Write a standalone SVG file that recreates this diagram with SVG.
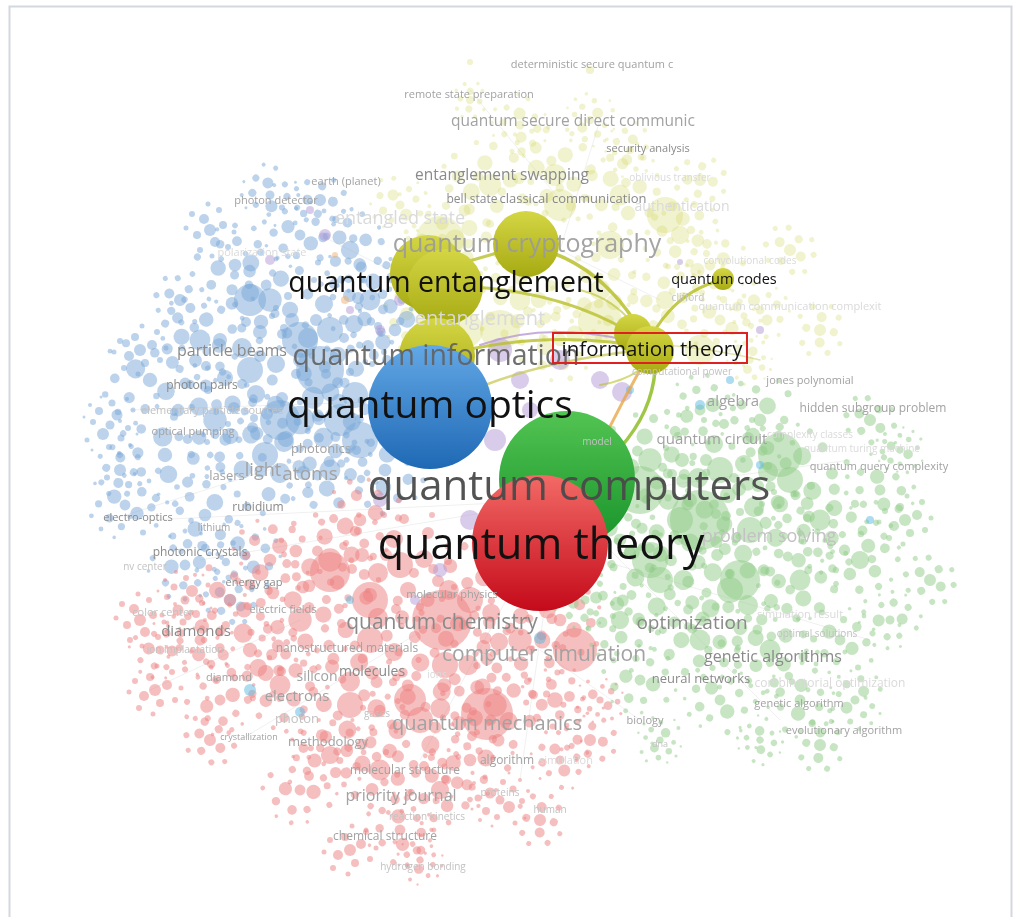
<svg xmlns="http://www.w3.org/2000/svg" width="1017" height="917" viewBox="0 0 1017 917">
<style>
text{font-family:'Open Sans','DejaVu Sans',sans-serif;text-anchor:middle}
.k{fill:#111}.d{fill:#555}.g2{fill:#8a8a8a}.g3{fill:#a2a2a2}.g4{fill:#c2c2c2}.g5{fill:#dadada}
.con{fill:none;stroke-linecap:round}
.soft{filter:url(#soft)}
</style>
<defs>
<filter id="soft" x="-5%" y="-5%" width="110%" height="110%"><feGaussianBlur stdDeviation="0.7"/></filter>
<g id="bA"><circle cx="0" cy="0" r="13"/><circle cx="24" cy="-6" r="9"/><circle cx="-22" cy="8" r="10"/><circle cx="8" cy="25" r="8"/><circle cx="-6" cy="-26" r="9"/><circle cx="38" cy="16" r="6"/><circle cx="-38" cy="-10" r="7"/><circle cx="28" cy="-32" r="6"/><circle cx="-30" cy="30" r="7"/><circle cx="48" cy="-4" r="4"/><circle cx="-48" cy="4" r="5"/><circle cx="4" cy="-46" r="5"/><circle cx="-4" cy="44" r="5"/><circle cx="20" cy="42" r="4"/><circle cx="42" cy="34" r="3"/><circle cx="-42" cy="-34" r="4"/><circle cx="32" cy="-50" r="3"/><circle cx="-16" cy="-50" r="3"/><circle cx="54" cy="22" r="3"/><circle cx="-54" cy="-22" r="3"/><circle cx="14" cy="8" r="5"/><circle cx="-14" cy="-10" r="6"/></g>
<g id="bB"><circle cx="0" cy="0" r="9"/><circle cx="-18" cy="-14" r="12"/><circle cx="20" cy="14" r="11"/><circle cx="-26" cy="22" r="7"/><circle cx="28" cy="-22" r="8"/><circle cx="6" cy="-34" r="6"/><circle cx="-6" cy="36" r="6"/><circle cx="44" cy="4" r="7"/><circle cx="-44" cy="-2" r="6"/><circle cx="40" cy="-40" r="4"/><circle cx="-40" cy="40" r="4"/><circle cx="16" cy="-52" r="3"/><circle cx="-18" cy="54" r="3"/><circle cx="56" cy="-18" r="3"/><circle cx="-56" cy="18" r="4"/><circle cx="52" cy="34" r="4"/><circle cx="-50" cy="-36" r="3"/><circle cx="30" cy="46" r="5"/><circle cx="-30" cy="-46" r="5"/><circle cx="8" cy="20" r="4"/></g>
<g id="bC"><circle cx="0" cy="0" r="6"/><circle cx="12" cy="-5" r="5"/><circle cx="-11" cy="6" r="5"/><circle cx="5" cy="13" r="4"/><circle cx="-5" cy="-13" r="4"/><circle cx="20" cy="10" r="3"/><circle cx="-20" cy="-9" r="3"/><circle cx="17" cy="-18" r="3"/><circle cx="-16" cy="18" r="3"/><circle cx="26" cy="-2" r="2.5"/><circle cx="-26" cy="2" r="2.5"/><circle cx="2" cy="-24" r="2.5"/><circle cx="-2" cy="24" r="2.5"/></g>
<linearGradient id="gBlue" x1="0" y1="0" x2="0" y2="1"><stop offset="0" stop-color="#62a8e6"/><stop offset="1" stop-color="#1f68b4"/></linearGradient>
<linearGradient id="gGreen" x1="0" y1="0" x2="0" y2="1"><stop offset="0" stop-color="#52c452"/><stop offset="1" stop-color="#17922a"/></linearGradient>
<linearGradient id="gRed" x1="0" y1="0" x2="0" y2="1"><stop offset="0" stop-color="#f26a66"/><stop offset="1" stop-color="#c40a1a"/></linearGradient>
<linearGradient id="gYel" x1="0" y1="0" x2="0" y2="1"><stop offset="0" stop-color="#d4d644"/><stop offset="1" stop-color="#a6aa12"/></linearGradient>
</defs>

<rect x="9.5" y="6.5" width="1002" height="920" fill="#fff" stroke="#d3d7de" stroke-width="2"/>

<g id="web" stroke="#c8c8c8" stroke-opacity="0.35" stroke-width="0.8" fill="none">
<path d="M560 500L420 760M560 500L520 780M560 500L200 560M560 500L150 520M560 500L850 460M560 500L780 720M450 300L330 240M560 250L600 120M560 250L660 300M300 620L150 690M440 620L240 740M540 650L640 720M300 460L110 520M560 200L470 90M600 560L870 640M430 400L130 410"/>
</g>

<g id="cloud-yellow" class="soft" fill="#d4d868" fill-opacity="0.32">
<use href="#bA" transform="translate(490,185) scale(.85)"/><use href="#bA" transform="translate(555,175) rotate(40) scale(.85)"/><use href="#bA" transform="translate(620,195) rotate(80) scale(.8)"/><use href="#bA" transform="translate(680,235) rotate(120) scale(.7)"/><use href="#bA" transform="translate(455,240) rotate(160) scale(.8)"/><use href="#bA" transform="translate(520,300) rotate(200) scale(.8)"/><use href="#bA" transform="translate(600,290) rotate(240) scale(.8)"/><use href="#bA" transform="translate(665,300) rotate(280) scale(.7)"/>
<use href="#bB" transform="translate(720,320) scale(.6)"/><use href="#bB" transform="translate(520,125) rotate(50) scale(.5)"/><use href="#bB" transform="translate(590,120) rotate(100) scale(.45)"/><use href="#bB" transform="translate(400,205) rotate(200) scale(.5)"/><use href="#bB" transform="translate(630,150) rotate(250) scale(.45)"/><use href="#bB" transform="translate(710,265) rotate(300) scale(.6)"/><use href="#bB" transform="translate(760,310) rotate(20) scale(.5)"/><use href="#bB" transform="translate(750,360) rotate(70) scale(.4)"/><use href="#bB" transform="translate(560,340) rotate(120) scale(.7)"/><use href="#bB" transform="translate(420,320) rotate(170) scale(.6)"/>
<use href="#bC" transform="translate(790,250) rotate(240)"/><use href="#bC" transform="translate(820,330) rotate(300)"/><use href="#bC" transform="translate(700,180) rotate(30)"/><use href="#bC" transform="translate(470,100) rotate(120) scale(.7)"/>
<circle cx="440" cy="240" r="24"/><circle cx="665" cy="215" r="18"/><circle cx="600" cy="322" r="22"/><circle cx="500" cy="330" r="20"/><circle cx="700" cy="350" r="15"/><circle cx="465" cy="330" r="18"/><circle cx="560" cy="205" r="16"/><circle cx="610" cy="245" r="14"/><circle cx="590" cy="70" r="4"/><circle cx="470" cy="62" r="3"/>
</g>

<g id="cloud-blue" class="soft" fill="#7aa8d8" fill-opacity="0.5">
<use href="#bA" transform="translate(330,330)"/><use href="#bA" transform="translate(270,300) rotate(40) scale(.9)"/><use href="#bA" transform="translate(250,370) rotate(90)"/><use href="#bA" transform="translate(300,420) rotate(140) scale(1.1)"/><use href="#bA" transform="translate(355,395) rotate(200)"/><use href="#bA" transform="translate(215,420) rotate(60) scale(.9)"/><use href="#bA" transform="translate(265,455) rotate(250)"/><use href="#bA" transform="translate(330,470) rotate(300) scale(.8)"/><use href="#bA" transform="translate(200,340) rotate(30) scale(.8)"/><use href="#bA" transform="translate(370,300) rotate(120) scale(.8)"/><use href="#bA" transform="translate(350,250) rotate(70) scale(.7)"/>
<use href="#bB" transform="translate(150,380) scale(.8)"/><use href="#bB" transform="translate(165,455) rotate(45) scale(.8)"/><use href="#bB" transform="translate(125,505) scale(.6)"/><use href="#bB" transform="translate(205,515) rotate(90) scale(.7)"/><use href="#bB" transform="translate(235,265) rotate(135) scale(.7)"/><use href="#bB" transform="translate(300,235) rotate(180) scale(.6)"/><use href="#bB" transform="translate(270,195) rotate(225) scale(.5)"/><use href="#bB" transform="translate(110,425) rotate(270) scale(.5)"/><use href="#bB" transform="translate(185,565) rotate(315) scale(.6)"/><use href="#bB" transform="translate(245,555) rotate(20) scale(.6)"/><use href="#bB" transform="translate(385,470) rotate(60) scale(.7)"/><use href="#bB" transform="translate(395,330) rotate(100) scale(.7)"/>
<use href="#bC" transform="translate(140,350)"/><use href="#bC" transform="translate(180,300) rotate(60)"/><use href="#bC" transform="translate(120,470) rotate(120)"/><use href="#bC" transform="translate(230,600) rotate(240)"/><use href="#bC" transform="translate(320,200) rotate(30)"/><use href="#bC" transform="translate(210,230) rotate(90)"/>
<circle cx="320" cy="370" r="24"/><circle cx="280" cy="420" r="20"/><circle cx="360" cy="440" r="18"/><circle cx="300" cy="340" r="18"/><circle cx="250" cy="300" r="16"/><circle cx="340" cy="420" r="16"/>
</g>

<g id="cloud-red" class="soft" fill="#ee8080" fill-opacity="0.5">
<use href="#bA" transform="translate(330,560) scale(.9)"/><use href="#bA" transform="translate(400,565)"/><use href="#bA" transform="translate(470,600) rotate(45)"/><use href="#bA" transform="translate(300,620) rotate(90) scale(.9)"/><use href="#bA" transform="translate(370,640) rotate(130)"/><use href="#bA" transform="translate(445,665) rotate(200)"/><use href="#bA" transform="translate(520,640) rotate(15) scale(.9)"/><use href="#bA" transform="translate(280,685) rotate(60) scale(.8)"/><use href="#bA" transform="translate(350,705) rotate(110)"/><use href="#bA" transform="translate(420,720) rotate(170)"/><use href="#bA" transform="translate(495,705) rotate(250) scale(.9)"/><use href="#bA" transform="translate(380,770) rotate(40) scale(.8)"/><use href="#bA" transform="translate(440,790) rotate(80) scale(.7)"/><use href="#bA" transform="translate(330,755) scale(.7)"/><use href="#bA" transform="translate(555,700) scale(.6)"/>
<use href="#bB" transform="translate(560,620) scale(.7)"/><use href="#bB" transform="translate(230,600) scale(.7)"/><use href="#bB" transform="translate(250,650) rotate(30) scale(.8)"/><use href="#bB" transform="translate(200,640) rotate(60) scale(.6)"/><use href="#bB" transform="translate(185,600) rotate(90) scale(.5)"/><use href="#bB" transform="translate(220,700) rotate(120) scale(.6)"/><use href="#bB" transform="translate(300,790) rotate(150) scale(.6)"/><use href="#bB" transform="translate(500,800) rotate(180) scale(.5)"/><use href="#bB" transform="translate(560,760) rotate(210) scale(.5)"/><use href="#bB" transform="translate(420,860) rotate(240) scale(.4)"/><use href="#bB" transform="translate(270,560) rotate(270) scale(.7)"/><use href="#bB" transform="translate(360,520) rotate(300) scale(.7)"/><use href="#bB" transform="translate(160,650) rotate(330) scale(.5)"/><use href="#bB" transform="translate(600,700) scale(.4)"/><use href="#bB" transform="translate(400,830) rotate(45) scale(.6)"/><use href="#bB" transform="translate(470,760) rotate(135) scale(.7)"/>
<use href="#bC" transform="translate(155,690)"/><use href="#bC" transform="translate(210,740) rotate(60)"/><use href="#bC" transform="translate(350,850) rotate(180)"/><use href="#bC" transform="translate(540,820) rotate(300)"/><use href="#bC" transform="translate(590,740) rotate(30)"/><use href="#bC" transform="translate(140,620) rotate(90)"/>
<circle cx="442" cy="620" r="30"/><circle cx="487" cy="714" r="26"/><circle cx="575" cy="650" r="22"/><circle cx="330" cy="572" r="20"/><circle cx="370" cy="600" r="18"/><circle cx="410" cy="700" r="16"/>
</g>

<g id="cloud-green" class="soft" fill="#8fcc88" fill-opacity="0.5">
<use href="#bA" transform="translate(650,460) scale(.9)"/><use href="#bA" transform="translate(720,470)"/><use href="#bA" transform="translate(790,480) rotate(40)"/><use href="#bA" transform="translate(680,520) rotate(80)"/><use href="#bA" transform="translate(750,530) rotate(120)"/><use href="#bA" transform="translate(820,520) rotate(160) scale(.8)"/><use href="#bA" transform="translate(660,580) rotate(200)"/><use href="#bA" transform="translate(730,590) rotate(240)"/><use href="#bA" transform="translate(800,580) rotate(280) scale(.8)"/><use href="#bA" transform="translate(700,640) rotate(20) scale(.8)"/><use href="#bA" transform="translate(770,650) rotate(60) scale(.8)"/><use href="#bA" transform="translate(620,620) rotate(100) scale(.7)"/><use href="#bA" transform="translate(860,560) rotate(140) scale(.7)"/>
<use href="#bB" transform="translate(840,640) scale(.6)"/><use href="#bB" transform="translate(880,490) rotate(40) scale(.6)"/><use href="#bB" transform="translate(760,420) rotate(80) scale(.7)"/><use href="#bB" transform="translate(700,410) rotate(120) scale(.6)"/><use href="#bB" transform="translate(640,680) rotate(160) scale(.6)"/><use href="#bB" transform="translate(720,700) rotate(200) scale(.6)"/><use href="#bB" transform="translate(800,700) rotate(240) scale(.6)"/><use href="#bB" transform="translate(855,700) rotate(280) scale(.5)"/><use href="#bB" transform="translate(890,620) rotate(320) scale(.5)"/><use href="#bB" transform="translate(620,540) rotate(10) scale(.7)"/><use href="#bB" transform="translate(760,740) rotate(50) scale(.4)"/><use href="#bB" transform="translate(660,740) rotate(90) scale(.4)"/><use href="#bB" transform="translate(585,600) rotate(130) scale(.5)"/><use href="#bB" transform="translate(900,450) rotate(170) scale(.4)"/>
<use href="#bC" transform="translate(905,520)"/><use href="#bC" transform="translate(870,420) rotate(60)"/><use href="#bC" transform="translate(820,745) rotate(120)"/><use href="#bC" transform="translate(930,580) rotate(240)"/><use href="#bC" transform="translate(600,480) rotate(300)"/>
<circle cx="700" cy="520" r="30"/><circle cx="640" cy="490" r="24"/><circle cx="780" cy="455" r="22"/><circle cx="740" cy="580" r="20"/><circle cx="650" cy="560" r="18"/>
</g>

<g id="spots" fill-opacity="0.5">
<g fill="#b49ad8"><circle cx="400" cy="300" r="6"/><circle cx="460" cy="360" r="8"/><circle cx="520" cy="380" r="9"/><circle cx="600" cy="380" r="9"/><circle cx="622" cy="392" r="10"/><circle cx="270" cy="260" r="5"/><circle cx="310" cy="210" r="4"/><circle cx="560" cy="520" r="6"/><circle cx="440" cy="570" r="7"/><circle cx="470" cy="520" r="10"/><circle cx="530" cy="410" r="8"/><circle cx="380" cy="330" r="5"/><circle cx="760" cy="330" r="4"/><circle cx="595" cy="560" r="4"/><circle cx="415" cy="600" r="5"/><circle cx="500" cy="350" r="12"/><circle cx="560" cy="360" r="10"/><circle cx="495" cy="440" r="11"/><circle cx="380" cy="500" r="7"/><circle cx="350" cy="310" r="4"/><circle cx="680" cy="262" r="3"/><circle cx="325" cy="235" r="6"/></g>
<g fill="#5cb8e0"><circle cx="540" cy="638" r="6"/><circle cx="760" cy="465" r="4"/><circle cx="870" cy="520" r="4"/><circle cx="700" cy="405" r="5"/><circle cx="350" cy="600" r="4"/><circle cx="730" cy="380" r="4"/><circle cx="250" cy="690" r="6"/><circle cx="300" cy="712" r="5"/><circle cx="630" cy="390" r="4"/></g>
<g fill="#f0b070"><circle cx="345" cy="300" r="4"/><circle cx="335" cy="255" r="3"/><circle cx="575" cy="455" r="4"/></g>
</g>

<g id="connectors" class="con">
<path d="M640 330 Q600 262 530 246" stroke="#b9bf2a" stroke-width="3.5" stroke-opacity="0.85"/>
<path d="M636 336 Q560 288 450 286" stroke="#b9bf2a" stroke-width="3" stroke-opacity="0.8"/>
<path d="M632 345 Q540 330 440 356" stroke="#b9bf2a" stroke-width="3" stroke-opacity="0.8"/>
<path d="M655 330 Q680 290 722 280" stroke="#b9bf2a" stroke-width="3" stroke-opacity="0.85"/>
<path d="M655 370 Q652 412 620 448" stroke="#96c032" stroke-width="3.5" stroke-opacity="0.9"/>
<path d="M640 370 Q612 420 586 476" stroke="#e8a848" stroke-width="3" stroke-opacity="0.8"/>
<path d="M626 352 Q545 362 485 385" stroke="#c8c85a" stroke-width="2.5" stroke-opacity="0.75"/>
<path d="M626 340 Q545 322 480 345" stroke="#b898d4" stroke-width="2" stroke-opacity="0.8"/>
<path d="M466 262 Q500 252 522 246" stroke="#b9bf2a" stroke-width="3" stroke-opacity="0.8"/>
<path d="M640 335 Q620 300 580 290" stroke="#b9bf2a" stroke-width="2" stroke-opacity="0.6"/>
<path d="M645 365 Q630 380 600 385" stroke="#b9bf2a" stroke-width="2" stroke-opacity="0.6"/>
<path d="M665 345 Q720 350 760 360" stroke="#c8cc60" stroke-width="1.5" stroke-opacity="0.5"/>
</g>

<g id="node-quantum-cryptography"><circle cx="526" cy="244" r="33" fill="url(#gYel)"/></g>
<g id="node-quantum-entanglement"><circle cx="428" cy="273" r="38" fill="url(#gYel)"/><circle cx="445" cy="287" r="38" fill="url(#gYel)"/></g>
<g id="node-quantum-information"><circle cx="437" cy="356" r="38" fill="url(#gYel)"/></g>
<g id="node-quantum-codes"><circle cx="723" cy="279" r="11" fill="url(#gYel)"/></g>
<g id="node-information-theory"><circle cx="633" cy="333" r="19" fill="url(#gYel)"/><circle cx="650" cy="350" r="24" fill="url(#gYel)"/></g>
<g id="node-quantum-optics"><circle cx="430" cy="407" r="62" fill="url(#gBlue)"/></g>
<g id="node-quantum-computers"><circle cx="567" cy="479" r="68" fill="url(#gGreen)"/></g>
<g id="node-quantum-theory"><circle cx="540" cy="543" r="68" fill="url(#gRed)"/></g>

<g id="labels-minor">
<text x="592" y="68" font-size="11" class="g3">deterministic secure quantum c</text>
<text x="469" y="98" font-size="11" class="g3">remote state preparation</text>
<text x="573" y="126" font-size="15.5" class="g3">quantum secure direct communic</text>
<text x="648" y="152" font-size="11" class="g2">security analysis</text>
<text x="502" y="180" font-size="15.5" class="g2">entanglement swapping</text>
<text x="670" y="181" font-size="10" class="g5">oblivious transfer</text>
<text x="472" y="203" font-size="12" class="g2">bell state</text>
<text x="573" y="203" font-size="13" class="g2">classical communication</text>
<text x="682" y="211" font-size="14" class="g5">authentication</text>
<text x="400" y="224" font-size="18" class="g5">entangled state</text>
<text x="262" y="256" font-size="11" class="g5">polarization state</text>
<text x="346" y="185" font-size="11" class="g3">earth (planet)</text>
<text x="276" y="204" font-size="11" class="g3">photon detector</text>
<text x="750" y="264" font-size="10" class="g5">convolutional codes</text>
<text x="688" y="301" font-size="10" class="g4">clifford</text>
<text x="790" y="310" font-size="11" class="g5">quantum communication complexit</text>
<text x="480" y="325" font-size="20" class="g5">entanglement</text>
<text x="682" y="375" font-size="10" class="g4">computational power</text>
<text x="232" y="356" font-size="16" class="g2">particle beams</text>
<text x="202" y="389" font-size="12" class="g2">photon pairs</text>
<text x="212" y="414" font-size="11" class="g4">elementary particle sources</text>
<text x="193" y="435" font-size="11" class="g3">optical pumping</text>
<text x="321" y="453" font-size="13" class="g3">photonics</text>
<text x="227" y="480" font-size="13" class="g3">lasers</text>
<text x="263" y="476" font-size="18" class="g3">light</text>
<text x="310" y="480" font-size="19" class="g3">atoms</text>
<text x="258" y="511" font-size="12" class="g2">rubidium</text>
<text x="138" y="521" font-size="11" class="g2">electro-optics</text>
<text x="214" y="531" font-size="10" class="g3">lithium</text>
<text x="200" y="556" font-size="12" class="g2">photonic crystals</text>
<text x="145" y="570" font-size="10" class="g4">nv center</text>
<text x="254" y="586" font-size="11" class="g2">energy gap</text>
<text x="163" y="616" font-size="11" class="g4">color center</text>
<text x="196" y="636" font-size="15" class="g2">diamonds</text>
<text x="185" y="653" font-size="10" class="g4">ion implantation</text>
<text x="229" y="681" font-size="11" class="g3">diamond</text>
<text x="283" y="613" font-size="11" class="g3">electric fields</text>
<text x="452" y="598" font-size="11" class="g3">molecular physics</text>
<text x="442" y="629" font-size="21" class="g2">quantum chemistry</text>
<text x="347" y="652" font-size="12" class="g3">nanostructured materials</text>
<text x="544" y="661" font-size="21" class="g3">computer simulation</text>
<text x="317" y="681" font-size="14" class="g3">silicon</text>
<text x="372" y="676" font-size="14" class="g2">molecules</text>
<text x="437" y="678" font-size="10" class="g5">ions</text>
<text x="297" y="701" font-size="15" class="g3">electrons</text>
<text x="297" y="723" font-size="13" class="g4">photon</text>
<text x="377" y="717" font-size="10" class="g4">gases</text>
<text x="487" y="730" font-size="20" class="g3">quantum mechanics</text>
<text x="249" y="740" font-size="9" class="g3">crystallization</text>
<text x="328" y="746" font-size="13" class="g3">methodology</text>
<text x="405" y="774" font-size="12" class="g3">molecular structure</text>
<text x="507" y="764" font-size="12" class="g3">algorithm</text>
<text x="566" y="764" font-size="11" class="g5">simulation</text>
<text x="401" y="801" font-size="16" class="g3">priority journal</text>
<text x="500" y="796" font-size="10" class="g4">proteins</text>
<text x="550" y="813" font-size="10" class="g4">human</text>
<text x="427" y="820" font-size="10" class="g4">reaction kinetics</text>
<text x="385" y="840" font-size="12" class="g3">chemical structure</text>
<text x="423" y="870" font-size="10" class="g4">hydrogen bonding</text>
<text x="597" y="445" font-size="10" class="g4">model</text>
<text x="733" y="406" font-size="15" class="g3">algebra</text>
<text x="810" y="384" font-size="11" class="g3">jones polynomial</text>
<text x="873" y="412" font-size="12" class="g3">hidden subgroup problem</text>
<text x="712" y="444" font-size="15" class="g3">quantum circuit</text>
<text x="810" y="438" font-size="10" class="g5">complexity classes</text>
<text x="862" y="452" font-size="10" class="g5">quantum turing machine</text>
<text x="879" y="470" font-size="11" class="g3">quantum query complexity</text>
<text x="769" y="542" font-size="18" class="g4">problem solving</text>
<text x="692" y="629" font-size="19" class="g2">optimization</text>
<text x="800" y="618" font-size="11" class="g5">simulation result</text>
<text x="817" y="637" font-size="10" class="g4">optimal solutions</text>
<text x="773" y="662" font-size="16" class="g2">genetic algorithms</text>
<text x="701" y="683" font-size="13" class="g2">neural networks</text>
<text x="830" y="687" font-size="12" class="g5">combinatorial optimization</text>
<text x="799" y="707" font-size="11" class="g3">genetic algorithm</text>
<text x="645" y="724" font-size="11" class="g3">biology</text>
<text x="660" y="747" font-size="9" class="g4">dna</text>
<text x="844" y="734" font-size="11" class="g3">evolutionary algorithm</text>
</g>

<g id="labels-main">
<text id="label-quantum-cryptography" x="527" y="252" font-size="25" fill="#9a9a9a" fill-opacity="0.9">quantum cryptography</text>
<text id="label-quantum-entanglement" x="446" y="292" font-size="28.5" class="k">quantum entanglement</text>
<text id="label-quantum-information" x="436" y="365" font-size="28.5" fill="#606060" fill-opacity="0.9">quantum information</text>
<text id="label-quantum-codes" x="724" y="284" font-size="14.5" class="k">quantum codes</text>
<text id="label-information-theory" x="652" y="356" font-size="20.5" class="k">information theory</text>
<text id="label-quantum-optics" x="430" y="418" font-size="39" class="k">quantum optics</text>
<text id="label-quantum-computers" x="569" y="500" font-size="42" fill="#4a4a4a" fill-opacity="0.95">quantum computers</text>
<text id="label-quantum-theory" x="541" y="559" font-size="43" class="k">quantum theory</text>
</g>

<rect id="highlight" x="553" y="333" width="194" height="30" fill="none" stroke="#e02020" stroke-width="2"/>
</svg>
